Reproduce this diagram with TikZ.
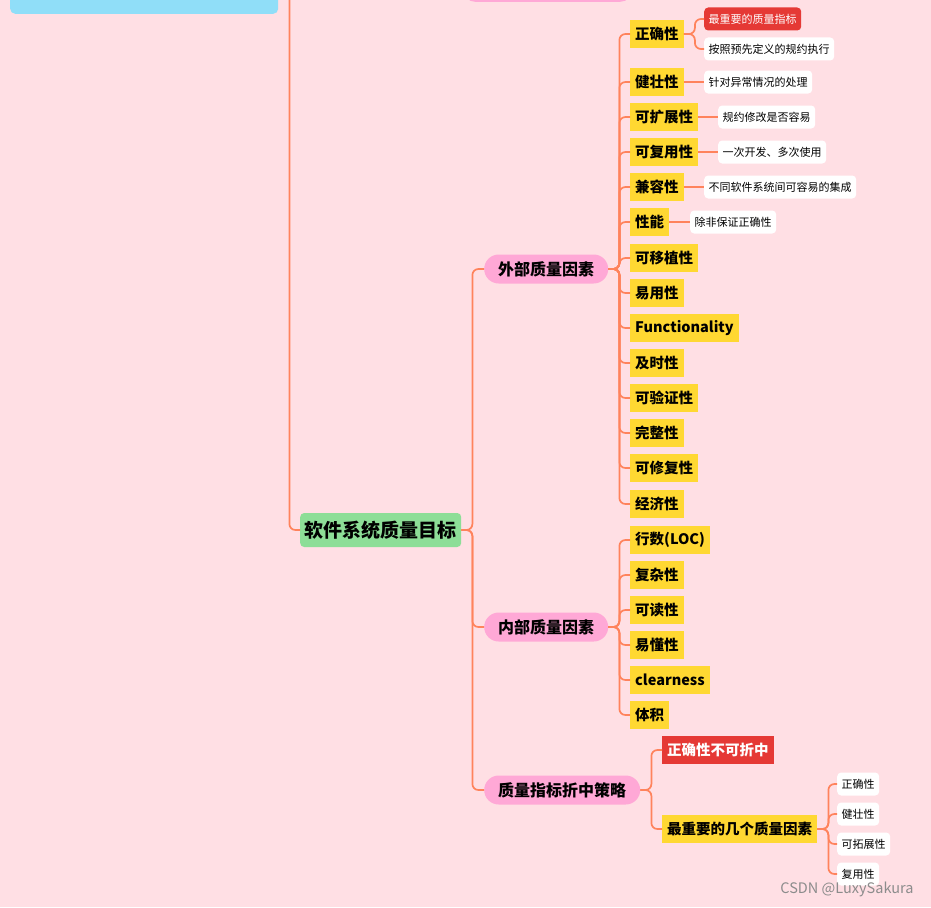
\documentclass[tikz,border=0pt]{standalone}
\usepackage{fontspec}
\setmainfont{Noto Sans CJK SC}
\usepackage{tikz}
\usetikzlibrary{positioning}
\definecolor{bgpink}{RGB}{255,223,228}
\definecolor{linkc}{RGB}{255,131,92}
\definecolor{factoryellow}{RGB}{255,216,50}
\definecolor{partpink}{RGB}{255,168,214}
\definecolor{goalgreen}{RGB}{141,222,151}
\definecolor{rootblue}{RGB}{144,222,248}
\definecolor{alertred}{RGB}{229,57,53}

\begin{document}
\begin{tikzpicture}[x=1pt, y=-1pt,
        link/.style={draw=linkc, line width=1.7pt, rounded corners=6pt},
        goal/.style={fill=goalgreen, rounded corners=4pt, minimum height=34pt, inner xsep=4.5pt, anchor=west, font=\fontsize{19}{21}\selectfont\bfseries},
        part/.style={fill=partpink, rounded corners=14.5pt, minimum height=29pt, inner xsep=14pt, anchor=west, font=\fontsize{16}{18}\selectfont\bfseries},
        factor/.style={fill=factoryellow, minimum height=28pt, inner xsep=5pt, anchor=west, font=\fontsize{14.5}{16}\selectfont\bfseries},
        note/.style={fill=white, rounded corners=4pt, minimum height=23pt, inner xsep=4.5pt, anchor=west, font=\fontsize{11}{13}\selectfont},
        alertnote/.style={note, fill=alertred, text=white},
        alertfactor/.style={factor, fill=alertred, text=white}
    ]

    \fill[bgpink] (0,0) rectangle (931,907);
    \useasboundingbox (0,0) rectangle (931,907);
    \clip (0,0) rectangle (931,907);

    % cut-off nodes at the top
    \node[fill=rootblue, rounded corners=5pt, minimum width=268pt, minimum height=48pt, anchor=south west] (root) at (10,14) {};
    \node[fill=partpink, rounded corners=12pt, minimum width=169pt, minimum height=24pt, anchor=south west] (toppart) at (463,2) {};

    \node[goal] (goal) at (300,530) {软件系统质量目标};

    \node[part] (ext) at (484,269) {外部质量因素};
    \node[part] (int) at (484,627) {内部质量因素};
    \node[part] (trade) at (484,790) {质量指标折中策略};

    % external factors
    \node[factor] (corr) at (630,34) {正确性};
    \node[factor] (robust) at (630,82) {健壮性};
    \node[factor] (extend) at (630,117) {可扩展性};
    \node[factor] (reuse) at (630,152) {可复用性};
    \node[factor] (compat) at (630,187) {兼容性};
    \node[factor] (perf) at (630,222) {性能};
    \node[factor] (port) at (630,258) {可移植性};
    \node[factor] (usab) at (630,293) {易用性};
    \node[factor] (func) at (630,328) {Functionality};
    \node[factor] (timely) at (630,363) {及时性};
    \node[factor] (verif) at (630,398) {可验证性};
    \node[factor] (integ) at (630,433) {完整性};
    \node[factor] (repair) at (630,468) {可修复性};
    \node[factor] (econ) at (630,504) {经济性};

    \node[alertnote] (corrtop) at (704,19) {最重要的质量指标};
    \node[note] (corrspec) at (704,49) {按照预先定义的规约执行};
    \node[note] (robustnote) at (704,82) {针对异常情况的处理};
    \node[note] (extendnote) at (718,117) {规约修改是否容易};
    \node[note] (reusenote) at (718,152) {一次开发、多次使用};
    \node[note] (compatnote) at (704,187) {不同软件系统间可容易的集成};
    \node[note] (perfnote) at (690,222) {除非保证正确性};

    % internal factors
    \node[factor] (loc) at (630,540) {行数(LOC)};
    \node[factor] (complex) at (630,575) {复杂性};
    \node[factor] (read) at (630,610) {可读性};
    \node[factor] (underst) at (630,645) {易懂性};
    \node[factor] (clear) at (630,680) {clearness};
    \node[factor] (vol) at (630,715) {体积};

    % trade-off
    \node[alertfactor] (nocomp) at (662,750) {正确性不可折中};
    \node[factor] (keyfac) at (662,829) {最重要的几个质量因素};
    \node[note] (key1) at (837,784) {正确性};
    \node[note] (key2) at (837,814) {健壮性};
    \node[note] (key3) at (837,844) {可拓展性};
    \node[note] (key4) at (837,874) {复用性};

    % connectors
    \draw[link] (root.east) -- ++(11,0) |- (goal.west);
    \foreach \c in {ext, int, trade}
        \draw[link] (goal.east) -- ++(11,0) |- (\c.west);
    \foreach \c in {corr, robust, extend, reuse, compat, perf, port, usab, func, timely, verif, integ, repair, econ}
        \draw[link] (ext.east) -- ++(11,0) |- (\c.west);
    \foreach \c in {corrtop, corrspec}
        \draw[link] (corr.east) -- ++(11,0) |- (\c.west);
    \draw[link] (robust) -- (robustnote);
    \draw[link] (extend) -- (extendnote);
    \draw[link] (reuse) -- (reusenote);
    \draw[link] (compat) -- (compatnote);
    \draw[link] (perf) -- (perfnote);
    \foreach \c in {loc, complex, read, underst, clear, vol}
        \draw[link] (int.east) -- ++(11,0) |- (\c.west);
    \foreach \c in {nocomp, keyfac}
        \draw[link] (trade.east) -- ++(11,0) |- (\c.west);
    \foreach \c in {key1, key2, key3, key4}
        \draw[link] (keyfac.east) -- ++(11,0) |- (\c.west);

    \node[text=black!45, anchor=east, font=\fontsize{14.5}{16}\selectfont] (mark) at (917,889) {CSDN @LuxySakura};

\end{tikzpicture}
\end{document}
